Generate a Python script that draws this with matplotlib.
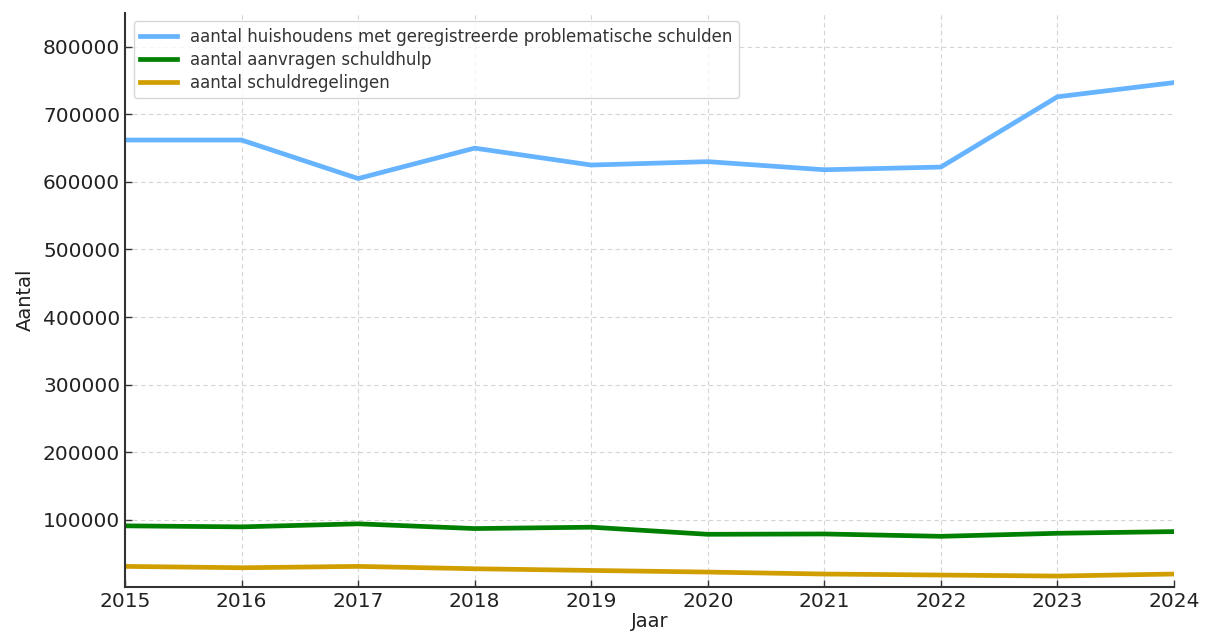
import numpy as np
from matplotlib import pyplot as plt

# jaartallen en reeksen
jaren = [2015, 2016, 2017, 2018, 2019, 2020, 2021, 2022, 2023, 2024]
huishoudens = [662000, 662000, 605000, 650000, 625000, 630000, 618000, 622000, 726000, 747000]
aanvragen = [91000, 89500, 94000, 87000, 89000, 78500, 79000, 75500, 80000, 82500]
regelingen = [31000, 29000, 31000, 27500, 25000, 22600, 19700, 18200, 16700, 19700]

labels = ['aantal huishoudens met geregistreerde problematische schulden',
          'aantal aanvragen schuldhulp',
          'aantal schuldregelingen']

plt.rcParams['font.family'] = ['DejaVu Sans']
plt.rcParams['text.color'] = '#333333'

fig = plt.figure(figsize=(12.07, 6.34), dpi=100)
ax = fig.add_axes([125/1207, 1-587/634, (1174-125)/1207, (587-13)/634])

ax.plot(jaren, huishoudens, color='#66b3ff', lw=3.4, label=labels[0])
ax.plot(jaren, aanvragen, color='#008000', lw=3.4, label=labels[1])
ax.plot(jaren, regelingen, color='#d19e00', lw=3.4, label=labels[2])

ax.set_xlim(2015, 2024)
ax.set_ylim(500, 850000)
ax.set_xticks(jaren)
ax.set_yticks([100000, 200000, 300000, 400000, 500000, 600000, 700000, 800000])
ax.ticklabel_format(axis='y', style='plain', useOffset=False)

ax.grid(True, linestyle=(0, (4, 3)), color='#d5d5d5', linewidth=0.8)
ax.set_axisbelow(True)
for s in ['top', 'right']:
    ax.spines[s].set_visible(False)
for s in ['left', 'bottom']:
    ax.spines[s].set_color('#333333')
    ax.spines[s].set_linewidth(1.5)
ax.tick_params(direction='in', length=5, width=1, colors='#333333', labelsize=14.5, labelcolor='#222222')

ax.set_xlabel('Jaar', fontsize=14, color='#222222', labelpad=1)
ax.set_ylabel('Aantal', fontsize=14, color='#222222', labelpad=6)

leg = ax.legend(loc='upper left', fontsize=12, frameon=True, fancybox=True,
                bbox_to_anchor=(0.005, 0.992), borderaxespad=0.2, handlelength=2.2,
                labelspacing=0.3, borderpad=0.4)
leg.get_frame().set_edgecolor('#cccccc')
for t in leg.get_texts():
    t.set_color('#333333')

fig.savefig('out.png', dpi=100)
